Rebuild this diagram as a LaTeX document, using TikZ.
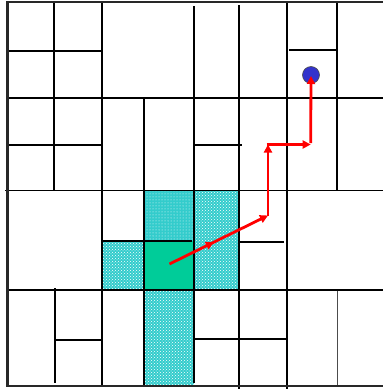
\documentclass[tikz,border=0pt]{standalone}
\usetikzlibrary{patterns,arrows.meta,decorations.markings}
\definecolor{cellcyan}{RGB}{51,204,204}
\definecolor{cellgreen}{RGB}{0,204,153}
\definecolor{dotblue}{RGB}{51,51,204}
\definecolor{bordergray}{RGB}{40,40,40}
\tikzset{
  wall/.style={line width=1.7pt, black},
  frame/.style={line width=2.2pt, bordergray},
  lightwall/.style={line width=1.3pt, black!70},
  cyancell/.style={fill=cellcyan},
  coarsedots/.style={pattern=crosshatch dots, pattern color=white},
  finedots/.style={pattern=dots, pattern color=white!90!cellcyan},
  route/.style={line width=2.8pt, red, -{Triangle[length=8pt,width=8pt]}},
  midarrow/.style={postaction={decorate}, decoration={markings,
      mark=at position 0.45 with {\arrow{Triangle[length=8pt,width=8pt]}}}}
}
\begin{document}
\begin{tikzpicture}[x=1pt,y=-1pt]
\useasboundingbox (0,0) rectangle (383,389);
% shaded cells
\fill[cyancell] (144,190.5) rectangle (194,240.7);
\fill[finedots] (144,190.5) rectangle (194,240.7);
\fill[cyancell] (101.7,240.7) rectangle (144,289.7);
\fill[coarsedots] (101.7,240.7) rectangle (144,289.7);
\fill[cyancell] (194,190.5) rectangle (238.7,289.7);
\fill[coarsedots] (194,190.5) rectangle (238.7,289.7);
\fill[cyancell] (144,289.7) rectangle (194,386);
\fill[coarsedots] (144,289.7) rectangle (194,386);
\fill[cellgreen] (144,240.7) rectangle (194,289.7);
% horizontal walls
\draw[wall] (7.5,50.7) -- (101.7,50.7);
\draw[wall] (289,50) -- (335.7,50);
\draw[wall] (7.5,97.7) -- (383,97.7);
\draw[wall] (7.5,144.7) -- (101.7,144.7);
\draw[wall] (194,144.7) -- (241.7,144.7);
\draw[wall] (5,190.5) -- (383,190.5);
\draw[wall] (101.7,240.7) -- (191.7,240.7);
\draw[wall] (238.7,242) -- (283.7,242);
\draw[wall] (7.5,289.7) -- (383,289.7);
\draw[wall] (54,339.7) -- (101.7,339.7);
\draw[wall] (194,338.7) -- (287.3,338.7);
% vertical walls
\draw[wall] (54,2) -- (54,190.5);
\draw[wall] (101.7,2) -- (101.7,386);
\draw[wall] (144,97.7) -- (144,386);
\draw[wall] (194,6) -- (194,383);
\draw[wall] (238.7,5) -- (238.7,388.5);
\draw[wall] (287.3,3) -- (287.3,388.5);
\draw[wall] (336.7,3) -- (336.7,190.5);
\draw[lightwall] (337.3,290.7) -- (337.3,386);
\draw[wall] (55,288) -- (55,383);
% frame
\draw[frame] (383,2) -- (7.5,2) -- (7.5,386) -- (383,386);
% target
\node[circle, fill=dotblue, draw=black!70, line width=0.6pt, minimum size=17pt, inner sep=0pt] (goal) at (311,75) {};
% route
\coordinate (s) at (169.5,264);
\coordinate (c1) at (268,215.5);
\coordinate (c2) at (268,144.5);
\coordinate (c3) at (310.7,144.5);
\draw[route, midarrow] (s) -- (c1);
\draw[route] (c1) -- (c2);
\draw[route] ([xshift=-1.4pt]c2) -- (c3);
\draw[route] ([yshift=1.4pt]c3) -- ([yshift=-1pt]goal.center);
\end{tikzpicture}
\end{document}
